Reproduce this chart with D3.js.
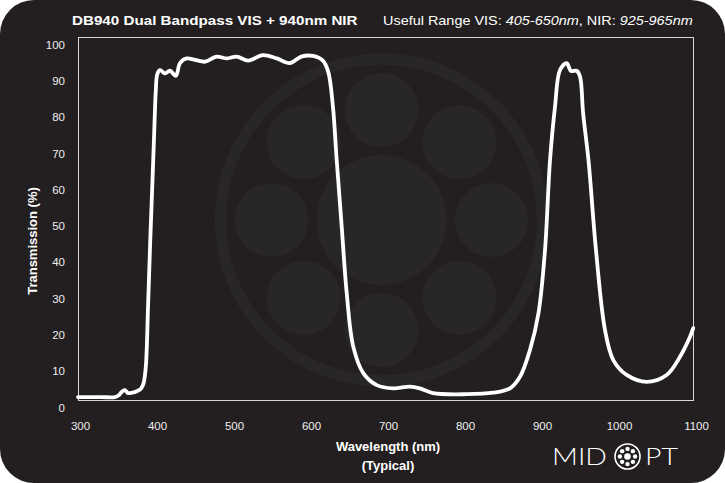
<!DOCTYPE html>
<html><head><meta charset="utf-8">
<script src="https://cdn.jsdelivr.net/npm/d3@7"></script>
<style>body{margin:0;background:#fff;}svg{display:block}</style>
</head><body>
<svg id="chart" width="725" height="483"></svg>
<script>
// ---- data ----
const wavelengths = [300,330,348,353,357,361,365,370,377,382,385,388,391,394,397,399.5,401,403,406.5,413,419.5,427,432.5,441,452,465,480,493,506,521,540,558,575,590,605,618,625,631,636,642.5,649,657.5,670.5,688,709.5,731,744,761,805,839,861,874,887,898,906.5,913,919.5,926,934.7,940,947.7,952,956,963,972.7,984.4,995.2,1012.6,1038.6,1064.5,1081.8,1094.8,1099];
const transmission = [0.8,0.8,0.8,1.3,2.3,2.7,1.9,2.0,2.5,3.2,4.5,9,26,45,62,77,85,89.8,90.9,90.0,90.7,89.3,92.8,94.1,93.7,93.2,94.6,94.1,94.6,93.5,95.0,94.1,92.8,94.6,94.8,93.5,90.4,81,66,47.7,29.4,14.7,7.4,4.1,3.2,3.7,3.2,1.9,1.6,2.0,3.2,6.4,13.8,23.9,41.3,66,80.8,90.9,92.8,90.7,90.7,89.1,79,66,41.3,19.3,11.0,6.9,5.0,6.9,11.9,17.4,19.8];
const xTicks = [300,400,500,600,700,800,900,1000,1100];
const yTicks = [0,10,20,30,40,50,60,70,80,90,100];
const titleText = "DB940 Dual Bandpass VIS + 940nm NIR";
const rangeParts = [["Useful Range VIS: ","normal"],["405-650nm","italic"],[", NIR: ","normal"],["925-965nm","italic"]];
const xTitle = ["Wavelength (nm)","(Typical)"];
const yTitle = "Transmission (%)";

// ---- layout ----
const W = 725, H = 483;
const L = 78, R = 694, T = 37, B = 400;
const BG = "#231f20", WM = "#292627";
const FONT = "'Liberation Sans', Arial, sans-serif";

const svg = d3.select("#chart");
svg.append("rect").attr("width",W).attr("height",H).attr("fill","#ffffff");
svg.append("rect").attr("x",0).attr("y",0).attr("width",W).attr("height",H)
  .attr("rx",34).attr("ry",34).attr("fill",BG);

const x = d3.scaleLinear().domain([300,1100]).range([L,R]);
const y = d3.scaleLinear().domain([0,100]).range([B,T]);

// watermark logo
const cx = 381.5, cy = 220;
const wm = svg.append("g");
wm.append("circle").attr("cx",cx).attr("cy",cy).attr("r",161).attr("fill","none")
  .attr("stroke",WM).attr("stroke-width",11.5);
wm.append("circle").attr("cx",cx).attr("cy",cy).attr("r",65).attr("fill",WM);
d3.range(8).forEach(i=>{
  const a = i*Math.PI/4;
  wm.append("circle").attr("cx",cx+110*Math.cos(a)).attr("cy",cy+110*Math.sin(a))
    .attr("r",37).attr("fill",WM);
});

// plot frame
svg.append("rect").attr("x",L+0.5).attr("y",T+0.5).attr("width",R-L-1).attr("height",B-T)
  .attr("fill","none").attr("stroke","#d8d8d8").attr("stroke-width",1);

// axes
const yAxis = svg.append("g").attr("transform",`translate(${L-13},0)`)
  .call(d3.axisLeft(y).tickValues(yTicks).tickSize(0).tickPadding(0));
yAxis.select(".domain").remove();
yAxis.selectAll("text").attr("fill","#eeeeee").attr("font-family",FONT)
  .attr("font-size",11.5).attr("dy","0.32em").attr("transform","translate(0,7.5)");

const xAxis = svg.append("g").attr("transform",`translate(2,${B})`)
  .call(d3.axisBottom(x).tickValues(xTicks).tickFormat(d3.format("d")).tickSize(0).tickPadding(0));
xAxis.select(".domain").remove();
xAxis.selectAll("text").attr("fill","#eeeeee").attr("font-family",FONT)
  .attr("font-size",11.5).attr("dy",0).attr("y",30);

// curve
const line = d3.line().x((d,i)=>x(wavelengths[i])).y((d,i)=>y(transmission[i]))
  .curve(d3.curveCatmullRom.alpha(0.5));
svg.append("path").datum(transmission).attr("d",line).attr("fill","none")
  .attr("stroke","#ffffff").attr("stroke-width",3.8).attr("stroke-linejoin","round").attr("stroke-linecap","round");

function fit(t, x0, width, y0){
  const bb = t.node().getBBox();
  const s = width / bb.width;
  t.attr("transform",`translate(${x0},${y0}) scale(${s},1) translate(${-bb.x},0)`);
}

// titles
const tt = svg.append("text").attr("x",0).attr("y",0).attr("fill","#ffffff")
  .attr("font-family",FONT).attr("font-weight","bold").attr("font-size",13.5).text(titleText);
fit(tt, 72, 286, 25);

const rt = svg.append("text").attr("x",0).attr("y",0).attr("fill","#ffffff")
  .attr("font-family",FONT).attr("font-size",13.5);
rangeParts.forEach(p=>rt.append("tspan").attr("font-style",p[1]).text(p[0]));
fit(rt, 383, 310, 25);

xTitle.forEach((s,i)=>{
  svg.append("text").attr("x",(L+R)/2+2).attr("y",451+i*19).attr("text-anchor","middle")
    .attr("fill","#ffffff").attr("font-family",FONT).attr("font-weight","bold").attr("font-size",13).text(s);
});

svg.append("text").attr("transform",`translate(37,241) rotate(-90)`).attr("text-anchor","middle")
  .attr("fill","#ffffff").attr("font-family",FONT).attr("font-weight","bold").attr("font-size",13).text(yTitle);

// MIDOPT logo
const lg = svg.append("g");
const m1 = lg.append("text").attr("fill","#ffffff").attr("font-family","Lato, 'Open Sans', sans-serif")
  .attr("font-weight",300).attr("font-size",23).text("MID");
fit(m1, 552, 55, 465);
const m2 = lg.append("text").attr("fill","#ffffff").attr("font-family","Lato, 'Open Sans', sans-serif")
  .attr("font-weight",300).attr("font-size",23).text("PT");
fit(m2, 645, 33, 465);
const ox = 627.5, oy = 456.5;
lg.append("circle").attr("cx",ox).attr("cy",oy).attr("r",12.5).attr("fill","none").attr("stroke","#fff").attr("stroke-width",1.6);
lg.append("circle").attr("cx",ox).attr("cy",oy).attr("r",3.3).attr("fill","#fff");
d3.range(8).forEach(i=>{
  const a = i*Math.PI/4;
  lg.append("circle").attr("cx",ox+7.6*Math.cos(a)).attr("cy",oy+7.6*Math.sin(a)).attr("r",2.2).attr("fill","#fff");
});
</script>
</body></html>
